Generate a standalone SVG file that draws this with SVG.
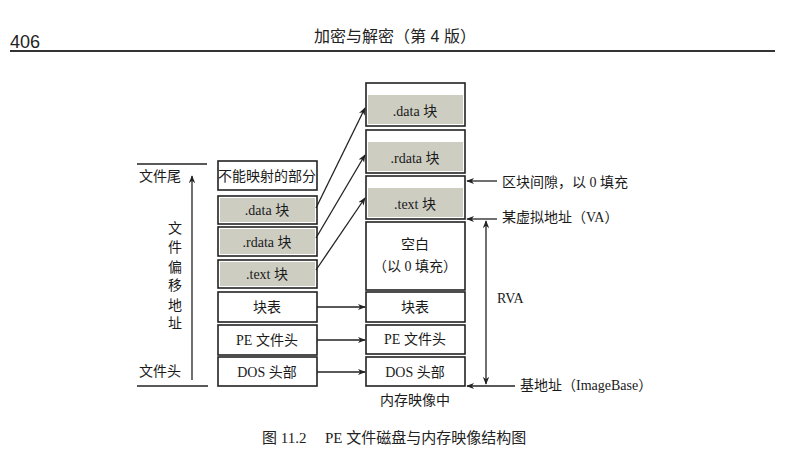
<svg xmlns="http://www.w3.org/2000/svg" width="800" height="456" viewBox="0 0 800 456">
<defs>
<style>
.t{font-family:"Liberation Serif","Noto Sans CJK SC",serif;font-size:14px;fill:#1a1a1a;text-anchor:middle}
.s{font-family:"Liberation Serif","Noto Sans CJK SC",serif;font-size:14px;fill:#1a1a1a}
.box{fill:#fff;stroke:#222;stroke-width:1.6}
.sh{fill:#cdcdc2;stroke:none}
.ln{stroke:#222;stroke-width:1.3;fill:none}
.cap{font-family:"Liberation Serif","Noto Sans CJK SC",serif;font-size:15px;fill:#222}
</style>
<marker id="ah" viewBox="0 0 10 10" refX="9" refY="5" markerWidth="8" markerHeight="8" markerUnits="userSpaceOnUse" orient="auto-start-reverse">
<path d="M0,1 L10,5 L0,9 L3,5 Z" fill="#222"/>
</marker>
</defs>
<rect width="800" height="456" fill="#fff"/>
<g id="header">
<text x="10" y="48" style="font-family:'Liberation Sans','Noto Sans CJK SC',sans-serif;font-size:18px;fill:#222">406</text>
<text x="395" y="42" style="font-family:'Liberation Sans','Noto Sans CJK SC',sans-serif;font-size:16px;fill:#222;text-anchor:middle">加密与解密（第 4 版）</text>
<line x1="10" y1="51" x2="775" y2="51" stroke="#333" stroke-width="2"/>
</g>
<g id="file-left">
<line x1="137" y1="164" x2="207" y2="164" class="ln"/>
<line x1="137" y1="386" x2="208" y2="386" class="ln"/>
<text x="160" y="181" class="t">文件尾</text>
<text x="160" y="376" class="t">文件头</text>
<text x="175" y="233" class="t">文</text>
<text x="175" y="252" class="t">件</text>
<text x="175" y="272" class="t">偏</text>
<text x="175" y="290" class="t">移</text>
<text x="175" y="310" class="t">地</text>
<text x="175" y="328" class="t">址</text>
</g>
<g id="d-unmapped"><rect x="218" y="161" width="99" height="29" class="box"/><text x="267" y="181" class="t">不能映射的部分</text></g>
<g id="d-data"><rect x="218" y="196" width="99" height="28" class="box"/><rect x="220" y="198" width="95" height="24" class="sh"/><text x="267" y="215" class="t">.data 块</text></g>
<g id="d-rdata"><rect x="218" y="227" width="99" height="29" class="box"/><rect x="220" y="229" width="95" height="25" class="sh"/><text x="267" y="247" class="t">.rdata 块</text></g>
<g id="d-text"><rect x="218" y="260" width="99" height="28" class="box"/><rect x="220" y="262" width="95" height="24" class="sh"/><text x="267" y="279" class="t">.text 块</text></g>
<g id="d-table"><rect x="218" y="292" width="99" height="30" class="box"/><text x="267" y="312" class="t">块表</text></g>
<g id="d-pe"><rect x="218" y="325" width="99" height="30" class="box"/><text x="267" y="345" class="t">PE 文件头</text></g>
<g id="d-dos"><rect x="218" y="357" width="99" height="29" class="box"/><text x="267" y="377" class="t">DOS 头部</text></g>

<g id="m-data"><rect x="366" y="83" width="99" height="43" class="box"/><rect x="368" y="95" width="95" height="29" class="sh"/><text x="415" y="116" class="t">.data 块</text></g>
<g id="m-rdata"><rect x="366" y="130" width="99" height="43" class="box"/><rect x="368" y="142" width="95" height="29" class="sh"/><text x="415" y="163" class="t">.rdata 块</text></g>
<g id="m-text"><rect x="366" y="176" width="99" height="43" class="box"/><rect x="368" y="188" width="95" height="29" class="sh"/><text x="415" y="209" class="t">.text 块</text></g>
<g id="m-blank"><rect x="366" y="222" width="99" height="68" class="box"/><text x="415" y="249" class="t">空白</text><text x="415" y="271" class="t">（以 0 填充）</text></g>
<g id="m-table"><rect x="366" y="292" width="99" height="30" class="box"/><text x="415" y="312" class="t">块表</text></g>
<g id="m-pe"><rect x="366" y="325" width="99" height="29" class="box"/><text x="415" y="344" class="t">PE 文件头</text></g>
<g id="m-dos"><rect x="366" y="357" width="99" height="29" class="box"/><text x="415" y="377" class="t">DOS 头部</text></g>
<text x="415" y="405" class="t">内存映像中</text>

<g id="labels">
<text x="502" y="187" class="s">区块间隙，以 0 填充</text>
<text x="502" y="222" class="s">某虚拟地址（VA）</text>
<text x="497" y="303" class="s">RVA</text>
<text x="520" y="390" class="s">基地址（ImageBase）</text>
</g>

<g id="connectors" class="ln">
<line x1="192" y1="380" x2="192" y2="176" marker-end="url(#ah)"/>
<line x1="316" y1="208" x2="365" y2="108" marker-end="url(#ah)"/>
<line x1="316" y1="238" x2="365" y2="155" marker-end="url(#ah)"/>
<line x1="316" y1="270" x2="365" y2="198" marker-end="url(#ah)"/>
<line x1="317" y1="307" x2="365" y2="307" marker-end="url(#ah)"/>
<line x1="317" y1="340" x2="365" y2="340" marker-end="url(#ah)"/>
<line x1="317" y1="372" x2="365" y2="372" marker-end="url(#ah)"/>
<line x1="497" y1="181" x2="467" y2="181" marker-end="url(#ah)"/>
<line x1="497" y1="219" x2="467" y2="219" marker-end="url(#ah)"/>
<line x1="486" y1="221" x2="486" y2="384" marker-start="url(#ah)" marker-end="url(#ah)"/>
<line x1="515" y1="386" x2="467" y2="386" marker-end="url(#ah)"/>
</g>

<g id="caption">
<text x="262" y="443" class="cap">图 11.2</text>
<text x="325" y="443" class="cap">PE 文件磁盘与内存映像结构图</text>
</g>
</svg>
